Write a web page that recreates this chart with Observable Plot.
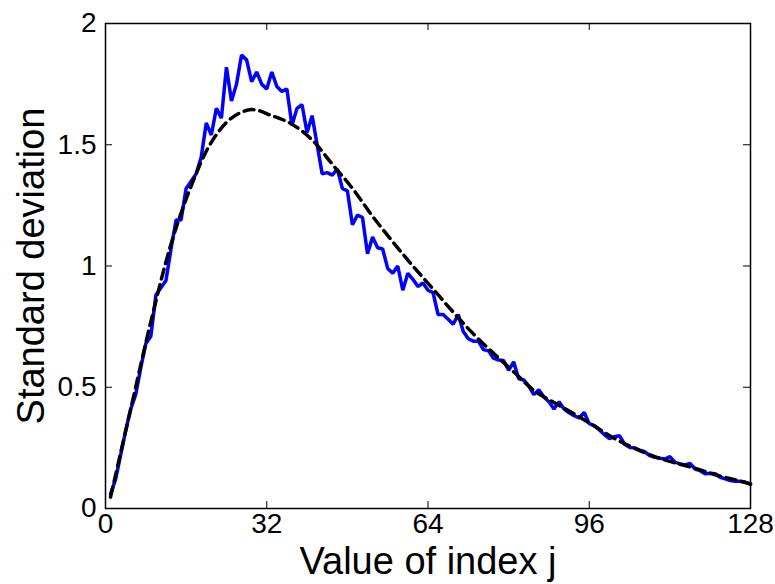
<!DOCTYPE html>
<html>
<head>
<meta charset="utf-8">
<script src="https://cdn.jsdelivr.net/npm/d3@7"></script>
<script src="https://cdn.jsdelivr.net/npm/@observablehq/plot@0.6"></script>
<style>
  html, body { margin: 0; padding: 0; background: #ffffff; }
  #chart svg { display: block; font-family: "Liberation Sans", Arial, Helvetica, sans-serif; }
</style>
</head>
<body>
<div id="chart"></div>
<script>
// Measured standard deviation for each index j = 1..128
const measuredStd = [
  0.06, 0.12, 0.22, 0.32, 0.41, 0.47, 0.58, 0.68, 0.71, 0.88,
  0.91, 0.94, 1.07, 1.19, 1.19, 1.32, 1.35, 1.38, 1.45, 1.59,
  1.54, 1.65, 1.61, 1.82, 1.68, 1.75, 1.87, 1.85, 1.76, 1.80,
  1.75, 1.73, 1.80, 1.74, 1.72, 1.73, 1.58, 1.65, 1.665, 1.55,
  1.62, 1.50, 1.38, 1.385, 1.375, 1.40, 1.32, 1.31, 1.17, 1.21,
  1.20, 1.05, 1.12, 1.075, 1.07, 0.99, 0.97, 1.00, 0.90, 0.97,
  0.945, 0.915, 0.93, 0.90, 0.89, 0.80, 0.80, 0.78, 0.76, 0.80,
  0.73, 0.70, 0.69, 0.69, 0.655, 0.65, 0.62, 0.612, 0.61, 0.57,
  0.605, 0.535, 0.53, 0.505, 0.47, 0.49, 0.46, 0.44, 0.41, 0.44,
  0.41, 0.395, 0.383, 0.373, 0.396, 0.35, 0.342, 0.324, 0.305, 0.288,
  0.296, 0.30, 0.265, 0.252, 0.25, 0.241, 0.234, 0.218, 0.211, 0.207,
  0.204, 0.214, 0.191, 0.184, 0.18, 0.186, 0.163, 0.156, 0.143, 0.145,
  0.143, 0.129, 0.122, 0.115, 0.112, 0.112, 0.108, 0.099
];
const measuredIndex = d3.range(1, measuredStd.length + 1);

// Model curve, sampled at a coarser set of indices
const modelIndex = [1, 5, 9, 13, 17, 21, 25, 29, 33, 37, 41, 45, 49, 53, 57, 61, 65,
  69, 73, 77, 81, 85, 89, 93, 97, 101, 105, 109, 113, 117, 121, 125, 128];
const modelStd = [0.047, 0.41, 0.77, 1.09, 1.33, 1.51, 1.61, 1.645, 1.62, 1.585, 1.52,
  1.42, 1.32, 1.205, 1.1, 1.0, 0.905, 0.81, 0.72, 0.64, 0.564, 0.487, 0.437,
  0.39, 0.34, 0.289, 0.248, 0.214, 0.188, 0.166, 0.139, 0.118, 0.102];

// Axis ticks
const xTicks = [0, 32, 64, 96, 128];
const yTicks = [0, 0.5, 1, 1.5, 2];
const yTickLabels = ["0", "0.5", "1", "1.5", "2"];

const measured = measuredIndex.map((j, i) => ({j, s: measuredStd[i]}));
const model = modelIndex.map((j, i) => ({j, s: modelStd[i]}));

const W = 775, H = 584;
const mL = 105, mR = 25, mT = 23, mB = 76;
const plotW = W - mL - mR, plotH = H - mT - mB;
const tickLen = 7;

const chart = Plot.plot({
  width: W,
  height: H,
  marginLeft: mL,
  marginRight: mR,
  marginTop: mT,
  marginBottom: mB,
  style: {fontFamily: "'Liberation Sans', Arial, Helvetica, sans-serif", background: "#ffffff", color: "#000000"},
  x: {domain: [0, 128]},
  y: {domain: [0, 2]},
  marks: [
    // inward tick marks on all four sides
    Plot.tickX(xTicks, {x: d => d, insetTop: plotH - tickLen, stroke: "#000", strokeWidth: 1}),
    Plot.tickX(xTicks, {x: d => d, insetBottom: plotH - tickLen, stroke: "#000", strokeWidth: 1}),
    Plot.tickY(yTicks, {y: d => d, insetRight: plotW - tickLen, stroke: "#000", strokeWidth: 1}),
    Plot.tickY(yTicks, {y: d => d, insetLeft: plotW - tickLen, stroke: "#000", strokeWidth: 1}),
    Plot.axisX(xTicks, {tickSize: 0, tickPadding: 5, fontSize: 28, label: null}),
    Plot.axisY(yTicks, {tickSize: 0, tickPadding: 9, fontSize: 28, label: null,
      tickFormat: d => yTickLabels[yTicks.indexOf(d)]}),
    // measured standard deviation
    Plot.line(measured, {x: "j", y: "s", stroke: "#0000ff", strokeWidth: 3.5, strokeLinejoin: "miter"}),
    // model curve
    Plot.line(model, {x: "j", y: "s", stroke: "#000000", strokeWidth: 3.5,
      strokeDasharray: "10,6", curve: "catmull-rom"}),
    Plot.frame({stroke: "#000000", strokeWidth: 1.5}),
    // axis titles
    Plot.text(["Value of index j"], {frameAnchor: "bottom", dy: 53, lineAnchor: "middle",
      textAnchor: "middle", fontSize: 38, fill: "#000"}),
    Plot.text(["Standard deviation"], {frameAnchor: "left", dx: -74, rotate: -90,
      lineAnchor: "middle", textAnchor: "middle", fontSize: 38, fill: "#000"})
  ]
});

document.getElementById("chart").appendChild(chart);
</script>
</body>
</html>
